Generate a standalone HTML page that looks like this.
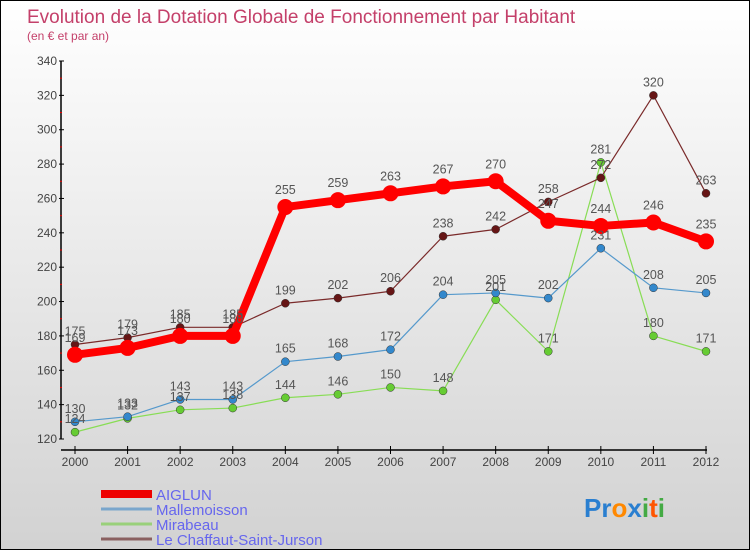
<!DOCTYPE html>
<html><head><meta charset="utf-8"><style>
html,body{margin:0;padding:0}
body{width:750px;height:550px;overflow:hidden;font-family:"Liberation Sans",sans-serif}
#wrap{position:relative;width:748px;height:548px;border:1px solid #000;background:linear-gradient(#ffffff,#d2d2d2)}
svg{position:absolute;left:0;top:0}
</style></head><body>
<div id="wrap">
<svg id="chart" width="748" height="548"></svg>
</div>
<script>
const years=["2000","2001","2002","2003","2004","2005","2006","2007","2008","2009","2010","2011","2012"];
const aiglun=[169,173,180,180,255,259,263,267,270,247,244,246,235];
const mallemoisson=[130,133,143,143,165,168,172,204,205,202,231,208,205];
const mirabeau=[124,132,137,138,144,146,150,148,201,171,281,180,171];
const chaffaut=[175,179,185,185,199,202,206,238,242,258,272,320,263];
const yTicks=[120,140,160,180,200,220,240,260,280,300,320,340];
const names=["AIGLUN","Mallemoisson","Mirabeau","Le Chaffaut-Saint-Jurson"];

const NS="http://www.w3.org/2000/svg";
const svg=document.getElementById('chart');
const x=i=>74+i*(705-74)/12;
const y=v=>438-(v-120)*(438-60)/220;
function el(t,a,p){const e=document.createElementNS(NS,t);for(const k in a)e.setAttribute(k,a[k]);(p||svg).appendChild(e);return e;}

const title=el('text',{x:26,y:22,'font-size':19,fill:'#c4406a'});


title.textContent="Evolution de la Dotation Globale de Fonctionnement par Habitant";
const sub=el('text',{x:26,y:39,'font-size':12,fill:'#c4406a'});


sub.textContent="(en € et par an)";

const ya=el('line',{x1:60,y1:60,x2:60,y2:438,stroke:'#000','stroke-width':1.5});


const xa=el('line',{x1:60,y1:449,x2:706,y2:449,stroke:'#000','stroke-width':1.5});


yTicks.forEach((v,i)=>{
  el('line',{x1:58,y1:y(v),x2:63,y2:y(v),stroke:'#000'});
  if(i<yTicks.length-1) el('line',{x1:59,y1:y(v+10),x2:61,y2:y(v+10),stroke:'#e00'});
  const t=el('text',{x:56,y:y(v)+4,'font-size':12,'text-anchor':'end',fill:'#444'});
  
  
  t.textContent=v;
});
years.forEach((yr,i)=>{
  el('line',{x1:x(i),y1:445,x2:x(i),y2:453,stroke:'#000'});
  const t=el('text',{x:x(i),y:465,'font-size':12,'text-anchor':'middle',fill:'#444'});
  
  
  t.textContent=yr;
});

const series=[
 {d:mirabeau,c:'#88dd55',dc:'#66cc33',w:1.2,r:4,n:'mirabeau'},
 {d:mallemoisson,c:'#5599cc',dc:'#3388cc',w:1.2,r:4,n:'mallemoisson'},
 {d:chaffaut,c:'#7a2a2a',dc:'#661515',w:1.2,r:4,n:'chaffaut'},
 {d:aiglun,c:'#ff0000',dc:'#ff0000',w:8,r:8,n:'aiglun'}
];
series.forEach(s=>{
  const pts=s.d.map((v,i)=>x(i)+','+y(v)).join(' ');
  const pl=el('polyline',{points:pts,fill:'none',stroke:s.c,'stroke-width':s.w,'stroke-linejoin':'round'});
  
  
  s.d.forEach((v,i)=>{
    const c=el('circle',{cx:x(i),cy:y(v),r:s.r,fill:s.dc,stroke:s.n==='aiglun'?'none':'#333','stroke-width':0.5});
    
    
  });
});
series.forEach(s=>{
  s.d.forEach((v,i)=>{
    const t=el('text',{x:x(i),y:y(v)-(s.n==='aiglun'?13:9),'font-size':12.5,'text-anchor':'middle',fill:'#555'});
    
    
    t.textContent=v;
  });
});

const leg=[{c:'#ee0000',w:8},{c:'#7aa6cc',w:3},{c:'#99d07a',w:3},{c:'#8a6060',w:3}];
leg.forEach((l,i)=>{
  const yy=493+i*15;
  const ln=el('line',{x1:100,y1:yy,x2:151,y2:yy,stroke:l.c,'stroke-width':l.w});
  
  
  const t=el('text',{x:155,y:yy+6,'font-size':15,fill:'#6666ee'});
  
  
  t.textContent=names[i];
});
const logo=el('text',{x:583,y:516,'font-size':26,'font-weight':'bold'});


[['P','#2a7fd0'],['r','#2a7fd0'],['o','#ff8800'],['x','#2a7fd0'],['i','#44aa44'],['t','#ff5500'],['i','#44aa44']].forEach(([ch,c])=>{
  const ts=el('tspan',{fill:c},logo);ts.textContent=ch;
});
</script>
</body></html>
